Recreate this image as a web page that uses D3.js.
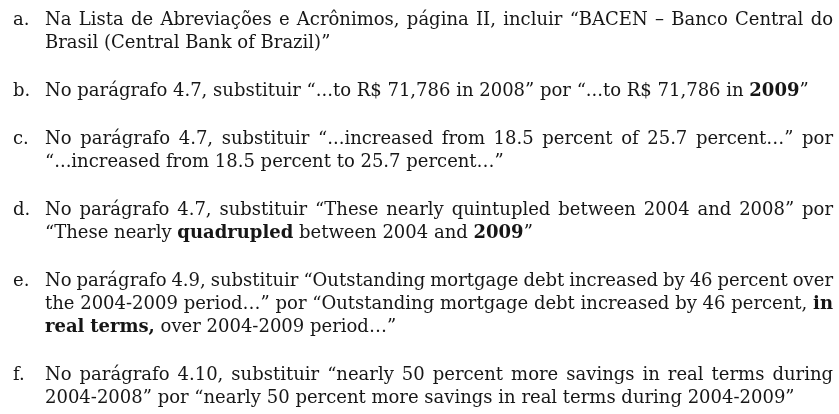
<!DOCTYPE html>
<html>
<head>
<meta charset="utf-8">
<script src="https://cdn.jsdelivr.net/npm/d3@7"></script>
<style>
  body { margin: 0; background: #fff; }
  svg text { font-family: "DejaVu Serif", serif; font-size: 18px; fill: #161616; }
</style>
</head>
<body>
<script>
var WIDTH = 839,
    HEIGHT = 414;

// item letters, then the lines of each item (** marks bold)
var labels = ["a.", "b.", "c.", "d.", "e.", "f."];

var linesA = [
  "Na Lista de Abreviações e Acrônimos, página II, incluir “BACEN – Banco Central do",
  "Brasil (Central Bank of Brazil)”"
];
var linesB = [
  "No parágrafo 4.7, substituir “...to R$ 71,786 in 2008” por “...to R$ 71,786 in **2009**”"
];
var linesC = [
  "No parágrafo 4.7, substituir “...increased from 18.5 percent of 25.7 percent…” por",
  "“...increased from 18.5 percent to 25.7 percent…”"
];
var linesD = [
  "No parágrafo 4.7, substituir “These nearly quintupled between 2004 and 2008” por",
  "“These nearly **quadrupled** between 2004 and **2009**”"
];
var linesE = [
  "No parágrafo 4.9, substituir “Outstanding mortgage debt increased by 46 percent over",
  "the 2004-2009 period…” por “Outstanding mortgage debt increased by 46 percent, **in**",
  "**real terms,** over 2004-2009 period…”"
];
var linesF = [
  "No parágrafo 4.10, substituir “nearly 50 percent more savings in real terms during",
  "2004-2008” por “nearly 50 percent more savings in real terms during 2004-2009”"
];

var paragraphs = [linesA, linesB, linesC, linesD, linesE, linesF];

var LINE = 23,
    GAP = 1.09;   // extra space between items, in lines

// text column: 0 = left edge, 1 = right edge of the justified block
var x = d3.scaleLinear().domain([0, 1]).range([45, 833]);
// running line slot -> baseline
var y = d3.scaleLinear().domain([0, 1]).range([25, 25 + LINE]);

var svg = d3.select("body").append("svg")
    .attr("width", WIDTH)
    .attr("height", HEIGHT);

svg.append("defs").append("filter")
    .attr("id", "scan")
  .append("feGaussianBlur")
    .attr("stdDeviation", 0.4);

var page = svg.append("g").attr("filter", "url(#scan)");

// split a line into words, each word a list of {t, b} pieces
function parseLine(s) {
  var words = [[]];
  s.split("**").forEach(function(part, i) {
    var bold = i % 2 === 1;
    part.split(" ").forEach(function(w, j) {
      if (j > 0) words.push([]);
      if (w) words[words.length - 1].push({ t: w, b: bold });
    });
  });
  return words.filter(function(w) { return w.length; });
}

// width of a plain space
var probe = page.append("text").text("xx");
var w2 = probe.node().getComputedTextLength();
probe.text("x x");
var SPACE = probe.node().getComputedTextLength() - w2;
probe.remove();

var slot = 0;
paragraphs.forEach(function(lines, p) {
  page.append("text")
      .attr("x", 13)
      .attr("y", y(slot))
      .text(labels[p]);

  lines.forEach(function(line, k) {
    var justify = k < lines.length - 1,
        row = page.append("g");

    var words = row.selectAll("text")
        .data(parseLine(line))
      .enter().append("text")
        .attr("y", y(slot));

    words.selectAll("tspan")
        .data(function(d) { return d; })
      .enter().append("tspan")
        .style("font-weight", function(d) { return d.b ? "bold" : null; })
        .text(function(d) { return d.t; });

    var widths = words.nodes().map(function(n) { return n.getComputedTextLength(); }),
        total = d3.sum(widths),
        gap = justify ? (x(1) - x(0) - total) / (widths.length - 1) : SPACE;

    var pos = x(0);
    words.attr("x", function(d, i) {
      var at = pos;
      pos += widths[i] + gap;
      return at;
    });

    slot += 1;
  });
  slot += GAP;
});
</script>
</body>
</html>
